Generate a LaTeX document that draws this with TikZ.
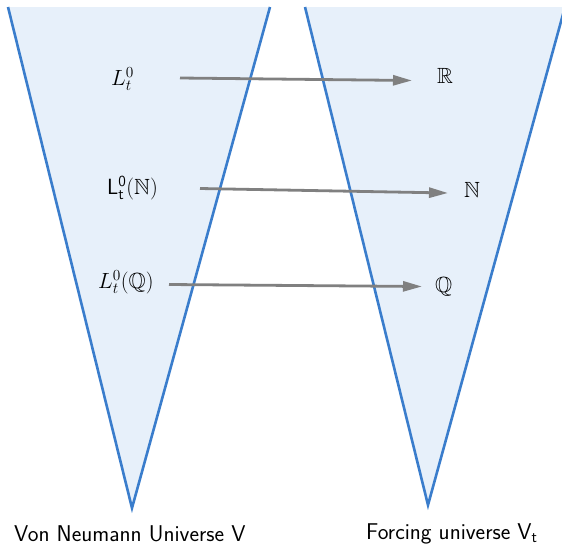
\RequirePackage{fix-cm}
\documentclass[tikz,border=0pt]{standalone}
\usepackage{amssymb}
\usepackage{fontspec}
\usetikzlibrary{arrows.meta}
\definecolor{conefill}{RGB}{231,240,250}
\definecolor{coneline}{RGB}{58,125,204}
\definecolor{arrowgray}{RGB}{128,128,128}
\tikzset{
  coneline/.style={draw=coneline, line width=2.6pt, line join=miter},
  maparrow/.style={draw=arrowgray, line width=2.8pt, -{Triangle[length=19pt,width=10pt]}},
  lbl/.style={inner sep=0pt, anchor=base west, font=\fontsize{22}{26}\selectfont},
  caption/.style={inner sep=0pt, anchor=base west, font=\fontsize{22.8}{27}\selectfont\sffamily},
}
\begin{document}
\begin{tikzpicture}[x=1pt,y=-1pt]
\useasboundingbox (0,0) rectangle (562,544);
\begin{scope}
\clip (0,0) rectangle (562,544);
\path[fill=conefill] (8,7) -- (132,508) -- (270,7) -- cycle;
\draw[coneline] (8,7) -- (132,508) -- (270,7);
\path[fill=conefill] (305,7) -- (428,505) -- (565,7) -- cycle;
\draw[coneline] (305,7) -- (428,505) -- (565,7);
\end{scope}
% labels
\node[lbl] (l1) at (111,85) {$L_t^0$};
\node[lbl] (l2) at (107,194) {$\mathsf{L}_{\mathsf{t}}^{\mathsf{0}}\mathsf{(}\mathbb{N}\mathsf{)}$};
\node[lbl] (l3) at (98,288) {$L_t^0(\mathbb{Q})$};
\node[lbl] (r1) at (437,83) {$\mathbb{R}$};
\node[lbl] (r2) at (464,197) {$\mathbb{N}$};
\node[lbl] (r3) at (435,292) {$\mathbb{Q}$};
\node[caption] (v) at (14,541) {Von Neumann Universe V};
\node[caption] (vt) at (366,539) {Forcing universe V$_{\mathsf{t}}$};
% arrows
\coordinate (a1s) at (180,78);
\coordinate (a1e) at (412,80.5);
\coordinate (a2s) at (200,188.5);
\coordinate (a2e) at (448,193);
\coordinate (a3s) at (169,284.5);
\coordinate (a3e) at (422,286.5);
\draw[maparrow] (a1s) -- (a1e);
\draw[maparrow] (a2s) -- (a2e);
\draw[maparrow] (a3s) -- (a3e);
\end{tikzpicture}
\end{document}
